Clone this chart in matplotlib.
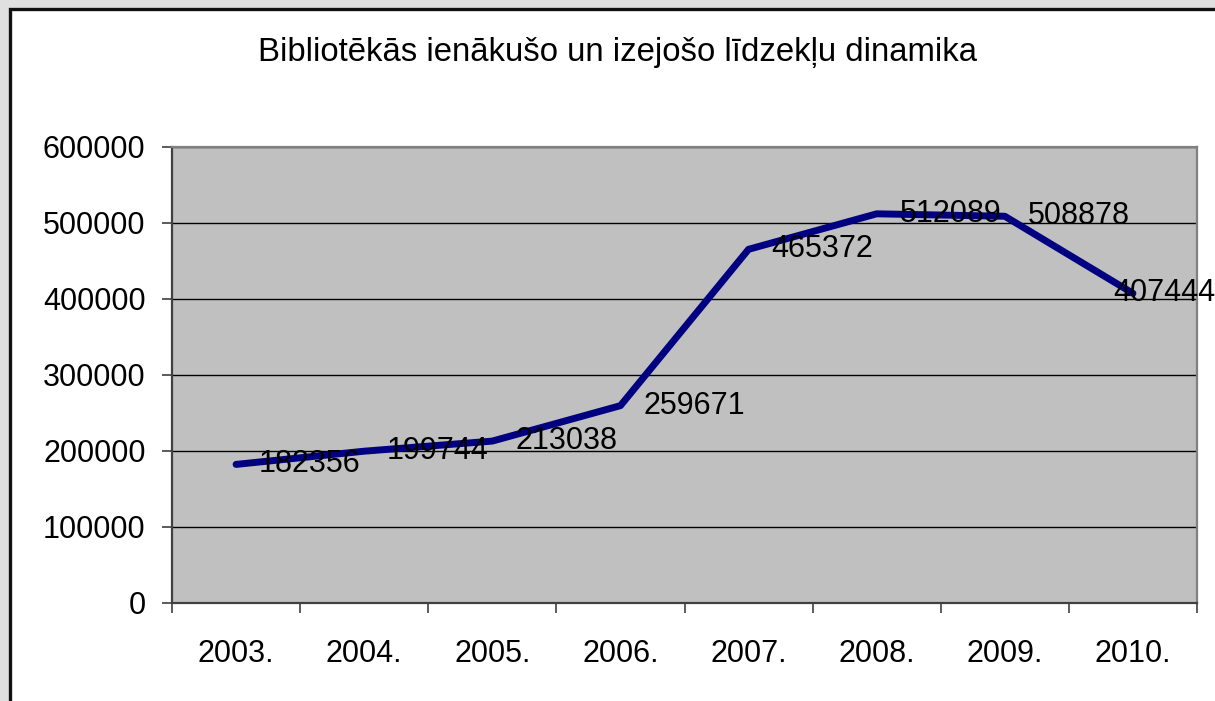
import matplotlib
matplotlib.use("Agg")
import matplotlib.pyplot as plt
from matplotlib.patches import Rectangle
from matplotlib.ticker import FixedLocator, NullFormatter

plt.rcParams['font.family'] = ['Liberation Sans', 'DejaVu Sans']

# Library funds per year
years = ['2003.', '2004.', '2005.', '2006.', '2007.', '2008.', '2009.', '2010.']
values = [182356, 199744, 213038, 259671, 465372, 512089, 508878, 407444]
title = 'Bibliotēkās ienākušo un izejošo līdzekļu dinamika'

W, H = 1215, 701
fig = plt.figure(figsize=(W / 100, H / 100), dpi=100)
fig.patch.set_facecolor('#e0e0e0')

# white chart area with a dark frame
frame = Rectangle((10 / W, -0.01), 1.02, 1 - 9 / H + 0.01, transform=fig.transFigure,
                  facecolor='white', edgecolor='#111111', linewidth=2.4, zorder=-1)
fig.patches.append(frame)

ax = fig.add_axes([172 / W, 1 - 603 / H, 1025 / W, 456 / H])
ax.set_zorder(2)
ax.set_facecolor('#c0c0c0')

x = list(range(len(years)))
ax.plot(x, values, color='#000080', linewidth=5.0, solid_capstyle='round',
        solid_joinstyle='round', zorder=3)

for i, v in enumerate(values):
    dx = 16.5 if i < len(values) - 1 else -14
    ax.annotate(str(v), (i, v), xytext=(dx, 0), textcoords='offset points',
                ha='left', va='center', fontsize=22, color='black', zorder=4,
                annotation_clip=False)

ax.set_xlim(-0.5, len(years) - 0.5)
ax.set_ylim(0, 600000)
ax.set_yticks(range(0, 600001, 100000))
ax.set_yticklabels([str(t) for t in range(0, 600001, 100000)])
ax.yaxis.grid(True, color='black', linewidth=1.0)
ax.set_axisbelow(True)

# ticks between categories, labels in the middle
ax.xaxis.set_major_locator(FixedLocator([i - 0.5 for i in range(len(years) + 1)]))
ax.xaxis.set_major_formatter(NullFormatter())
ax.xaxis.set_minor_locator(FixedLocator(x))
ax.set_xticklabels(years, minor=True)
ax.tick_params(axis='x', which='major', length=7, width=1.2, color='#404040')
ax.tick_params(axis='x', which='minor', length=0, pad=26, labelsize=22)
ax.tick_params(axis='y', length=7, width=1.2, color='#404040', pad=12, labelsize=22)

for side in ['left', 'bottom']:
    ax.spines[side].set_color('#404040')
    ax.spines[side].set_linewidth(1.6)
for side in ['right', 'top']:
    ax.spines[side].set_color('#808080')
    ax.spines[side].set_linewidth(1.6)

fig.text(618 / W, 1 - 52 / H, title, ha='center', va='center', fontsize=23.7, color='black')

fig.savefig('out.png', dpi=100, facecolor=fig.get_facecolor())
